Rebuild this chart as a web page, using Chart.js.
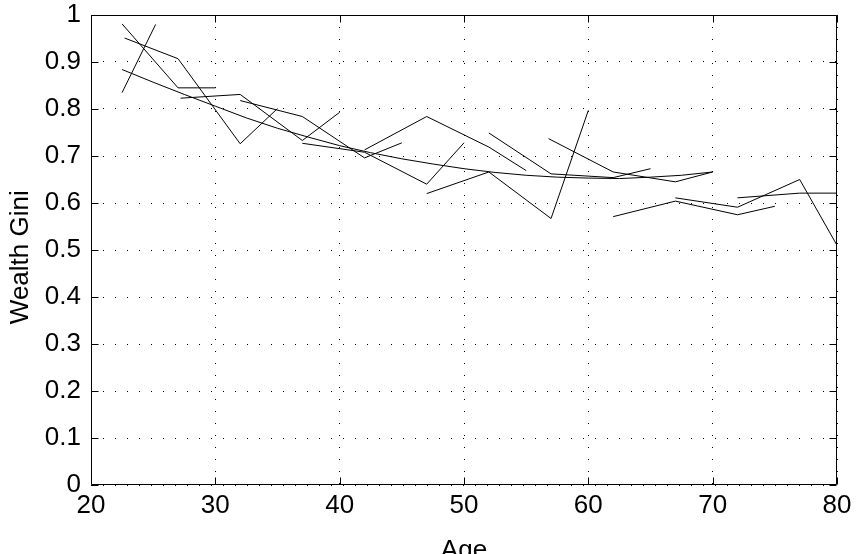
<!DOCTYPE html>
<html>
<head>
<meta charset="utf-8">
<script src="https://cdn.jsdelivr.net/npm/chart.js@4"></script>
<style>
  html, body { margin: 0; padding: 0; background: #fff; }
</style>
</head>
<body>
<canvas id="giniChart" width="856" height="554"></canvas>
<script>
// tick values and labels
const xTicks = [20, 30, 40, 50, 60, 70, 80];
const yTicks = [0, 0.1, 0.2, 0.3, 0.4, 0.5, 0.6, 0.7, 0.8, 0.9, 1];
const yTickLabels = ['0', '0.1', '0.2', '0.3', '0.4', '0.5', '0.6', '0.7', '0.8', '0.9', '1'];

// fitted age profile (smooth curve)
const fitAge = [22.5, 25, 27.5, 30, 32.5, 35, 37.5, 40, 42.5, 45, 47.5, 50, 52.5, 55, 57.5, 60, 62.5, 65, 67.5, 70];
const fitGini = [0.884, 0.857, 0.831, 0.806, 0.781, 0.759, 0.740, 0.722, 0.707, 0.694, 0.683, 0.673, 0.665, 0.659, 0.655, 0.653, 0.652, 0.655, 0.659, 0.666];

// cohort lines
const c1Age = [22.5, 25.2];
const c1Gini = [0.835, 0.980];
const c2Age = [22.5, 27, 30];
const c2Gini = [0.981, 0.845, 0.845];
const c3Age = [22.7, 27, 32, 35];
const c3Gini = [0.951, 0.907, 0.726, 0.801];
const c4Age = [27.2, 32, 37, 40];
const c4Gini = [0.823, 0.831, 0.733, 0.793];
const c5Age = [32, 37, 42, 45];
const c5Gini = [0.818, 0.784, 0.696, 0.728];
const c6Age = [37, 42, 47, 50];
const c6Gini = [0.727, 0.708, 0.640, 0.728];
const c7Age = [42, 47, 52, 55];
const c7Gini = [0.713, 0.784, 0.719, 0.669];
const c8Age = [47, 52, 57, 60];
const c8Gini = [0.620, 0.666, 0.567, 0.797];
const c9Age = [52, 57, 62, 65];
const c9Gini = [0.749, 0.662, 0.654, 0.673];
const c10Age = [56.8, 62, 67, 70];
const c10Gini = [0.737, 0.666, 0.645, 0.666];
const c11Age = [62, 67, 72, 75];
const c11Gini = [0.571, 0.604, 0.575, 0.593];
const c12Age = [67, 72, 77, 80];
const c12Gini = [0.611, 0.591, 0.650, 0.510];
const c13Age = [72, 77, 80];
const c13Gini = [0.611, 0.621, 0.621];

const FONT = { family: '"Liberation Sans", Arial, Helvetica, sans-serif', size: 26 };

const series = [
  [c1Age, c1Gini], [c2Age, c2Gini], [c3Age, c3Gini], [c4Age, c4Gini],
  [c5Age, c5Gini], [c6Age, c6Gini], [c7Age, c7Gini], [c8Age, c8Gini],
  [c9Age, c9Gini], [c10Age, c10Gini], [c11Age, c11Gini], [c12Age, c12Gini],
  [c13Age, c13Gini], [fitAge, fitGini]
];

const datasets = series.map(([ages, ginis]) => ({
  data: ages.map((a, i) => ({ x: a, y: ginis[i] })),
  showLine: true,
  borderColor: '#000',
  borderWidth: 1,
  pointRadius: 0,
  fill: false
}));

// box round the plot and inward tick marks, like the original
const axisBox = {
  id: 'axisBox',
  afterDatasetsDraw(chart) {
    const { ctx, chartArea: a, scales: { x, y } } = chart;
    const L = Math.round(a.left) + 0.5, R = Math.round(a.right) - 0.5;
    const T = Math.round(a.top) + 0.5, B = Math.round(a.bottom) - 0.5;
    const len = 7;
    ctx.save();
    ctx.strokeStyle = '#000';
    ctx.lineWidth = 1;
    ctx.beginPath();
    ctx.rect(L, T, R - L, B - T);
    xTicks.forEach(v => {
      const px = Math.round(x.getPixelForValue(v)) + 0.5;
      ctx.moveTo(px, B); ctx.lineTo(px, B - len);
      ctx.moveTo(px, T); ctx.lineTo(px, T + len);
    });
    yTicks.forEach(v => {
      const py = Math.round(y.getPixelForValue(v)) + 0.5;
      ctx.moveTo(L, py); ctx.lineTo(L + len, py);
      ctx.moveTo(R, py); ctx.lineTo(R - len, py);
    });
    ctx.stroke();
    ctx.restore();
  }
};

new Chart(document.getElementById('giniChart').getContext('2d'), {
  type: 'scatter',
  data: { datasets },
  options: {
    responsive: false,
    animation: false,
    layout: { padding: { top: 15, right: 19, bottom: 0, left: 0 } },
    plugins: { legend: { display: false }, tooltip: { enabled: false } },
    scales: {
      x: {
        type: 'linear',
        min: 20,
        max: 80,
        afterBuildTicks: s => { s.ticks = xTicks.map(v => ({ value: v })); },
        afterFit: s => { s.height = 69; s.paddingLeft = 0; s.paddingRight = 0; },
        ticks: { font: FONT, color: '#000', padding: 5, maxRotation: 0, autoSkip: false, callback: v => String(v) },
        grid: { color: '#000', lineWidth: 1, drawTicks: false },
        border: { display: false, dash: [1, 11] },
        title: { display: true, text: 'Age', font: FONT, color: '#000', padding: { top: 0, bottom: -12 } }
      },
      y: {
        type: 'linear',
        min: 0,
        max: 1,
        afterBuildTicks: s => { s.ticks = yTicks.map(v => ({ value: v })); },
        afterFit: s => { s.width = 91; s.paddingTop = 0; s.paddingBottom = 0; },
        ticks: { font: FONT, color: '#000', padding: 10, autoSkip: false, callback: (v, i) => yTickLabels[i] },
        grid: { color: '#000', lineWidth: 1, drawTicks: false },
        border: { display: false, dash: [1, 11] },
        // trailing spaces nudge the label down a little, as in the original
        title: { display: true, text: 'Wealth Gini  ', font: FONT, color: '#000', padding: { top: 5, bottom: 0 } }
      }
    }
  },
  plugins: [axisBox]
});
</script>
</body>
</html>
